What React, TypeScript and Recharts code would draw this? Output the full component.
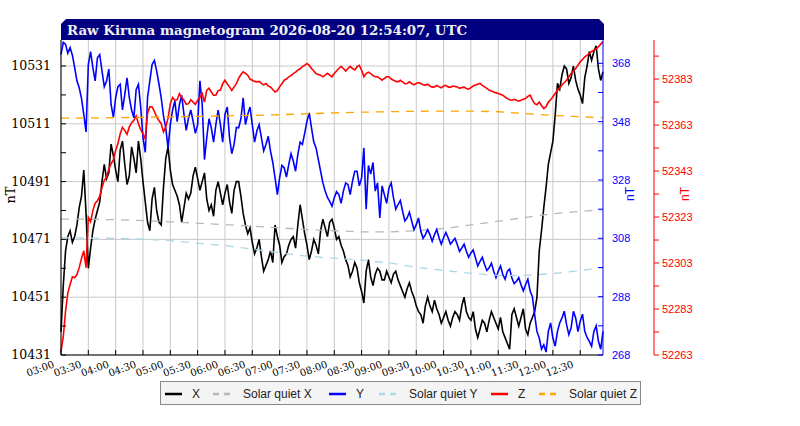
import React from "react";
import { LineChart, Line, XAxis, YAxis, CartesianGrid } from "recharts";

// samples every 2.5 minutes from 03:00 (minutes after midnight)
const START_MIN = 180;
const STEP_MIN = 2.5;

const xVals = [
  10439, 10455, 10467, 10472, 10474, 10470, 10472, 10476, 10482, 10486, 10495, 10480, 10461, 10468, 10474, 10478, 10481, 10484, 10491, 10497,
  10492, 10494, 10504, 10500, 10495, 10491, 10502, 10505, 10497, 10490, 10493, 10503, 10499, 10494, 10505, 10499, 10491, 10484, 10477, 10474,
  10485, 10489, 10481, 10477, 10476, 10489, 10499, 10503, 10495, 10490, 10488, 10486, 10483, 10477, 10482, 10487, 10485, 10487, 10493, 10496,
  10492, 10488, 10491, 10494, 10485, 10481, 10483, 10479, 10488, 10491, 10487, 10483, 10487, 10490, 10484, 10480, 10488, 10491, 10491, 10486,
  10480, 10476, 10473, 10475, 10470, 10466, 10468, 10471, 10465, 10460, 10462, 10464, 10467, 10463, 10476, 10472, 10469, 10463, 10465, 10466,
  10469, 10471, 10472, 10468, 10476, 10483, 10478, 10473, 10469, 10464, 10467, 10471, 10469, 10466, 10474, 10478, 10475, 10472, 10477, 10478,
  10475, 10471, 10472, 10469, 10467, 10464, 10462, 10458, 10460, 10463, 10461, 10456, 10453, 10449, 10460, 10464, 10458, 10455, 10459, 10461,
  10460, 10457, 10457, 10460, 10458, 10456, 10459, 10460, 10457, 10455, 10453, 10451, 10454, 10456, 10453, 10451, 10448, 10446, 10445, 10442,
  10448, 10451, 10448, 10446, 10450, 10447, 10445, 10442, 10444, 10446, 10443, 10441, 10444, 10446, 10445, 10443, 10448, 10451, 10446, 10444,
  10443, 10446, 10440, 10437, 10440, 10443, 10442, 10439, 10443, 10446, 10444, 10442, 10440, 10444, 10439, 10437, 10435, 10433, 10445, 10447,
  10444, 10441, 10444, 10447, 10440, 10438, 10442, 10444, 10446, 10451, 10467, 10474, 10482, 10489, 10497, 10501, 10505, 10514, 10525, 10523,
  10528, 10531, 10530, 10525, 10527, 10531, 10526, 10523, 10521, 10518, 10527, 10531, 10536, 10533, 10536, 10538, 10530, 10526, 10529,
];

const yVals = [
  371, 375.2, 374.5, 371.5, 373.4, 370.8, 366.5, 362, 359.6, 356, 350.5, 344.5, 367.6, 372, 366.5, 362, 369.9, 371, 365.4, 360,
  361.9, 366, 353.9, 349.5, 356.2, 360, 360.8, 352, 357.3, 363, 356.2, 352, 349.3, 359, 360.8, 353, 342.5, 337.5, 356.2, 362,
  367.6, 369, 365.4, 361, 356.2, 350, 345.9, 339, 347, 352, 355.1, 348, 353.9, 357, 350.5, 345, 349.3, 352, 348.2, 344,
  347, 362, 353.9, 335, 342.5, 349, 345.9, 341, 347, 352, 347, 341, 350.5, 353, 342.5, 337, 340.2, 346, 345.9, 349,
  356.2, 347, 350.5, 353, 347, 341, 344.8, 347, 342.5, 338, 340.2, 343, 337.9, 334, 328.7, 323, 328.7, 333, 332.2, 329,
  333.3, 337, 334.5, 331, 336.8, 341, 340.2, 344, 348.2, 351, 345.9, 341, 339, 335, 331, 327, 324.2, 322, 320.7, 319,
  321.9, 324, 323, 320, 324.2, 327, 326.5, 323, 327.6, 331, 331, 326, 328.7, 339, 318, 333, 330, 334, 324.2, 327,
  315, 326, 323, 320, 325.3, 327, 321.9, 318, 319.6, 321, 317.3, 314, 315, 317, 313.9, 311, 312.7, 315, 310.4, 308,
  309.3, 311, 309.3, 307, 309.3, 311, 308.2, 306, 308.2, 310, 308.2, 306, 307, 308, 305.9, 303.5, 304.7, 306, 303.6, 301.5,
  303, 304, 301.3, 298.5, 300.1, 301.5, 299, 297, 297.9, 299.5, 296.7, 294.5, 296.7, 298.5, 295.6, 294, 296.7, 297.5, 294.4, 292.5,
  293.3, 294.5, 292.1, 290, 292.1, 294, 289.9, 288, 281.8, 276, 273.8, 270, 271.5, 269, 276.1, 279, 273.8, 271, 276.1, 279,
  280.7, 283, 278.4, 275, 277.3, 283, 280.7, 276, 279.6, 282, 276.1, 274, 272.7, 271, 276.1, 278, 272.7, 270, 276.1,
];

const zVals = [
  52264.6, 52271, 52282.1, 52290, 52293.7, 52297, 52296.6, 52298, 52301, 52305, 52308.3, 52301, 52322.8, 52321, 52325.8, 52329, 52330.1, 52332, 52335.9, 52339,
  52340.3, 52344, 52346.1, 52348, 52352, 52355, 52359.2, 52362, 52360.7, 52359, 52362.2, 52364, 52365.1, 52367, 52363.6, 52361, 52359.2, 52357, 52368, 52371,
  52370.9, 52369, 52366.5, 52365, 52363.6, 52360, 52362.2, 52366, 52372.3, 52375, 52373.8, 52374, 52376.7, 52375, 52373.8, 52372, 52372.3, 52374, 52373, 52372,
  52373.8, 52375, 52376.7, 52373, 52378.2, 52379, 52377.4, 52376, 52376, 52378, 52378.2, 52381, 52382.5, 52381, 52379.6, 52378, 52379.6, 52381, 52383.3, 52385,
  52386.2, 52385.5, 52384.7, 52383, 52382.5, 52382, 52381.8, 52382, 52381.1, 52380.5, 52381.1, 52380, 52379.6, 52378.5, 52377.4, 52378, 52379.6, 52381, 52382.5, 52383,
  52384, 52384.5, 52385.4, 52386, 52386.9, 52387.5, 52388.4, 52389, 52389.8, 52389, 52387.6, 52386.5, 52385.4, 52385, 52384.7, 52384, 52384.7, 52385.5, 52384.7, 52384,
  52385.4, 52386.5, 52387.6, 52388.5, 52387.6, 52386.5, 52387.6, 52388.5, 52387.6, 52387, 52388.4, 52389, 52386.9, 52384, 52385.4, 52386, 52385.4, 52384.5, 52384, 52384,
  52383.3, 52382.5, 52383.3, 52384, 52384, 52383, 52382.5, 52382, 52381.8, 52382.5, 52381.8, 52381, 52381.1, 52381.8, 52381.1, 52380.5, 52381.1, 52381.5, 52381.1, 52380.5,
  52380.4, 52380.8, 52380, 52379.5, 52379.6, 52380.2, 52379.6, 52379.2, 52380, 52380.3, 52379.6, 52379.4, 52380, 52379.8, 52379.6, 52379, 52379.3, 52379.5, 52378.9, 52378.6,
  52379.3, 52380, 52380.4, 52380.8, 52381.1, 52380.3, 52379.6, 52379, 52378.2, 52377.8, 52377.4, 52377, 52376.7, 52376.4, 52376, 52375.2, 52374.5, 52374, 52373.8, 52374.2,
  52373.8, 52373.4, 52373.8, 52374.2, 52374.5, 52375.5, 52376, 52374, 52372.3, 52371.8, 52373, 52371.5, 52370.2, 52371, 52373, 52374, 52375.3, 52376.8, 52378.2, 52379.3,
  52380.4, 52381.5, 52382.5, 52384, 52385.4, 52386.5, 52387.6, 52389, 52390.5, 52391.5, 52392.7, 52393.4, 52394.2, 52395, 52395.6, 52396.2, 52397.1, 52398.2, 52399.3,
];

// solar quiet curves, every 30 minutes plus the last sample
const sqMinutes = [180, 210, 240, 270, 300, 330, 360, 390, 420, 450, 480, 510, 540, 570, 600, 630, 660, 690, 720, 750, 775];
const sqX = [10478.0, 10478.0, 10477.8, 10477.5, 10477.1, 10476.6, 10476.1, 10475.6, 10475.0, 10474.4, 10474.0, 10473.6, 10473.6, 10474.0, 10474.8, 10476.0, 10477.3, 10478.6, 10479.9, 10480.7, 10481.3];
const sqY = [308.2, 308.1, 308.0, 307.7, 307.2, 306.3, 305.5, 304.3, 303.0, 301.9, 301.2, 300.5, 299.6, 298.1, 297.0, 296.0, 295.3, 295.3, 295.9, 297.0, 297.9];
const sqZ = [52366.0, 52366.1, 52366.2, 52366.4, 52366.6, 52366.8, 52367.0, 52367.2, 52367.5, 52367.9, 52368.3, 52368.6, 52368.8, 52369.0, 52369.1, 52369.1, 52368.8, 52368.0, 52367.2, 52366.6, 52366.2];

const timeTicks = [180, 210, 240, 270, 300, 330, 360, 390, 420, 450, 480, 510, 540, 570, 600, 630, 660, 690, 720, 750];
const xTicks = [10431, 10441, 10451, 10461, 10471, 10481, 10491, 10501, 10511, 10521, 10531];
const xLabels = [10431, 10451, 10471, 10491, 10511, 10531];
const yTicks = [268, 278, 288, 298, 308, 318, 328, 338, 348, 358, 368];
const yLabels = [268, 288, 308, 328, 348, 368];
const zTicks = [52263, 52273, 52283, 52293, 52303, 52313, 52323, 52333, 52343, 52353, 52363, 52373, 52383, 52393];
const zLabels = [52263, 52283, 52303, 52323, 52343, 52363, 52383];

const TITLE = "Raw Kiruna magnetogram 2026-08-20 12:54:07, UTC";

const legendItems = [
  { name: "X", color: "#000000", dashed: false },
  { name: "Solar quiet X", color: "#b8b8b8", dashed: true },
  { name: "Y", color: "#0000ff", dashed: false },
  { name: "Solar quiet Y", color: "#add8e6", dashed: true },
  { name: "Z", color: "#ff0000", dashed: false },
  { name: "Solar quiet Z", color: "#ffa500", dashed: true },
];
// left edge of each legend entry inside the box
const legendLeft = [4, 52, 168, 218, 330, 378];

const rows = xVals.map((x, i) => {
  const t = START_MIN + i * STEP_MIN;
  const j = sqMinutes.indexOf(t);
  return {
    t,
    X: x,
    Y: yVals[i],
    Z: zVals[i],
    sqX: j >= 0 ? sqX[j] : null,
    sqY: j >= 0 ? sqY[j] : null,
    sqZ: j >= 0 ? sqZ[j] : null,
  };
});

const hhmm = (m: number) =>
  `${String(Math.floor(m / 60)).padStart(2, "0")}:${String(m % 60).padStart(2, "0")}`;

const SERIF = "'DejaVu Serif', serif";
const SANS = "'Liberation Sans', Arial, sans-serif";

const TimeTick = (p: any) => {
  const ax = p.x - 6;
  return (
    <text x={ax} y={p.y} transform={`rotate(-20 ${ax} ${p.y})`} textAnchor="end"
      fontFamily={SERIF} fontSize={10} fill="#000">
      {hhmm(p.payload.value)}
    </text>
  );
};

const makeTick = (labels: number[], anchor: "start" | "end", color: string, font: string, size: number) =>
  (p: any) =>
    labels.includes(p.payload.value) ? (
      <text x={p.x} y={p.y + 4} textAnchor={anchor} fontFamily={font} fontSize={size} fill={color}>
        {p.payload.value}
      </text>
    ) : (
      <g />
    );

export default function App() {
  return (
    <div style={{ position: "absolute", left: 0, top: 0, width: 800, height: 426, background: "#fff" }}>
      <LineChart width={800} height={426} data={rows} margin={{ top: 40, right: 0, bottom: 0, left: 0 }}>
        <CartesianGrid stroke="#c8c8c8" yAxisId="x" horizontalValues={xLabels} verticalValues={timeTicks} />
        <XAxis dataKey="t" type="number" domain={[180, 775]} ticks={timeTicks} interval={0} height={71}
          tickSize={-5} tickMargin={17} axisLine={{ stroke: "#000" }} tickLine={{ stroke: "#000" }} tick={<TimeTick />} />
        <YAxis yAxisId="x" domain={[10431, 10540]} ticks={xTicks} interval={0} width={61}
          tickSize={-5} tickMargin={15} axisLine={{ stroke: "#000" }} tickLine={{ stroke: "#000" }}
          tick={makeTick(xLabels, "end", "#000", SERIF, 12.5)} />
        <YAxis yAxisId="y" orientation="right" domain={[268, 376]} ticks={yTicks} interval={0} width={51}
          tickSize={-5} tickMargin={14} axisLine={{ stroke: "#0000ff" }} tickLine={{ stroke: "#0000ff" }}
          tick={makeTick(yLabels, "start", "#0000ff", SANS, 11)} />
        <YAxis yAxisId="z" orientation="right" domain={[52263, 52400]} ticks={zTicks} interval={0} width={146}
          tickSize={5} tickMargin={3} axisLine={{ stroke: "#ff0000" }} tickLine={{ stroke: "#ff0000" }}
          tick={makeTick(zLabels, "start", "#ff0000", SANS, 11)} />
        <Line yAxisId="x" dataKey="X" stroke="#000000" strokeWidth={1.6} dot={false} activeDot={false} isAnimationActive={false} />
        <Line yAxisId="x" dataKey="sqX" stroke="#b8b8b8" strokeWidth={1.3} strokeDasharray="8 7" connectNulls dot={false} activeDot={false} isAnimationActive={false} />
        <Line yAxisId="y" dataKey="Y" stroke="#0000ff" strokeWidth={1.6} dot={false} activeDot={false} isAnimationActive={false} />
        <Line yAxisId="y" dataKey="sqY" stroke="#add8e6" strokeWidth={1.3} strokeDasharray="8 7" connectNulls dot={false} activeDot={false} isAnimationActive={false} />
        <Line yAxisId="z" dataKey="Z" stroke="#ff0000" strokeWidth={1.6} dot={false} activeDot={false} isAnimationActive={false} />
        <Line yAxisId="z" dataKey="sqZ" stroke="#ffa500" strokeWidth={1.3} strokeDasharray="8 7" connectNulls dot={false} activeDot={false} isAnimationActive={false} />
      </LineChart>

      <svg width={800} height={426} style={{ position: "absolute", left: 0, top: 0, pointerEvents: "none" }}>
        <polygon points="61,24 66,19 599,19 604,24 604,40 61,40" fill="#000080" />
        <text x={67} y={35} fontFamily={SERIF} fontWeight="bold" fontSize={13.4} fill="#f0f0f0">{TITLE}</text>
        <text transform="translate(15 195) rotate(-90)" textAnchor="middle" fontFamily={SERIF} fontSize={13} fill="#000">nT</text>
        <text transform="translate(634 194) rotate(-90)" textAnchor="middle" fontFamily={SANS} fontSize={12} fill="#0000ff">nT</text>
        <text transform="translate(689 194) rotate(-90)" textAnchor="middle" fontFamily={SANS} fontSize={12} fill="#ff0000">nT</text>
      </svg>

      <div style={{ position: "absolute", left: 160, top: 381, width: 479, height: 22, border: "1px solid #888",
        background: "#f4f4f4", fontFamily: SANS, fontSize: 12, color: "#222", whiteSpace: "nowrap" }}>
        {legendItems.map((it, i) => (
          <div key={it.name} style={{ position: "absolute", left: legendLeft[i], top: 0, height: 24, display: "flex", alignItems: "center" }}>
            <svg width={17} height={6} style={{ marginRight: it.dashed ? 13 : 10 }}>
              <line x1={0} y1={3} x2={17} y2={3} stroke={it.color} strokeWidth={2.5} strokeDasharray={it.dashed ? "6 5" : undefined} />
            </svg>
            <span>{it.name}</span>
          </div>
        ))}
      </div>
    </div>
  );
}
